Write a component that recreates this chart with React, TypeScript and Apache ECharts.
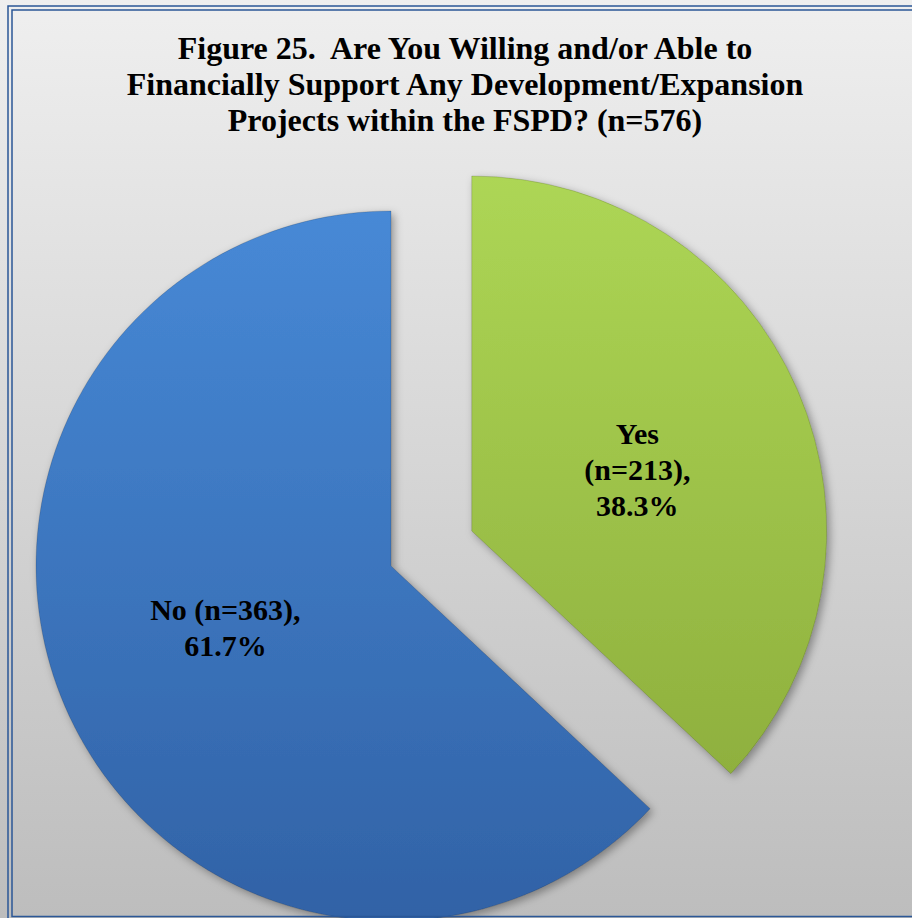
import React, { useEffect, useRef } from "react";
import * as echarts from "echarts";

const titleLines = [
  "Figure 25.  Are You Willing and/or Able to",
  "Financially Support Any Development/Expansion",
  "Projects within the FSPD? (n=576)",
];
const categories = ["Yes", "No"];
const counts = [213, 363];
const percents = [38.3, 61.7];
const nameSeparators = ["\n", " "];
const labelOffsets = [
  [0, 10],
  [0, -10],
];

const sliceColors = [
  ["#add655", "#8fb03e"],
  ["#4789d6", "#3162a6"],
];

export default function App() {
  const ref = useRef<HTMLDivElement>(null);
  useEffect(() => {
    document.body.style.margin = "0";
    const chart = echarts.init(ref.current!, null, { renderer: "svg" });
    const data = categories.map((c, i) => ({
      name: c,
      value: counts[i],
      selected: i === 0,
      label: {
        formatter: `${c}${nameSeparators[i]}(n=${counts[i]}),\n${percents[i].toFixed(1)}%`,
        offset: labelOffsets[i],
      },
      select: { label: { offset: labelOffsets[i] } },
      itemStyle: {
        color: new echarts.graphic.LinearGradient(0, 0, 0, 1, [
          { offset: 0, color: sliceColors[i][0] },
          { offset: 1, color: sliceColors[i][1] },
        ]),
      },
    }));
    chart.setOption({
      animation: false,
      graphic: [
        {
          type: "rect",
          z: -10,
          silent: true,
          shape: { x: 0, y: 0, width: 912, height: 918 },
          style: {
            fill: new echarts.graphic.LinearGradient(0, 0, 0, 1, [
              { offset: 0, color: "#efefef" },
              { offset: 1, color: "#bdbdbd" },
            ]),
          },
        },
        {
          type: "rect",
          z: 100,
          silent: true,
          shape: { x: 8, y: 6, width: 912, height: 916 },
          style: { fill: "none", stroke: "#2b5797", lineWidth: 1.5 },
        },
        {
          type: "rect",
          z: 100,
          silent: true,
          shape: { x: 12, y: 10, width: 906, height: 906.5 },
          style: { fill: "none", stroke: "#2b5797", lineWidth: 1.5 },
        },
      ],
      title: {
        text: titleLines.join("\n"),
        left: 465,
        top: 30,
        textAlign: "center",
        padding: 0,
        textStyle: {
          fontFamily: "Liberation Serif",
          fontWeight: "bold",
          fontSize: 32,
          lineHeight: 36,
          color: "#000",
        },
      },
      series: [
        {
          type: "pie",
          center: [391, 566],
          radius: 355,
          startAngle: 90,
          clockwise: true,
          selectedMode: "single",
          selectedOffset: 88,
          avoidLabelOverlap: false,
          emphasis: { disabled: true },
          itemStyle: {
            borderColor: "rgba(0,0,0,0.15)",
            borderWidth: 1,
            shadowBlur: 8,
            shadowOffsetX: 3,
            shadowOffsetY: 3,
            shadowColor: "rgba(0,0,0,0.35)",
          },
          label: {
            show: true,
            position: "inside",
            fontFamily: "Liberation Serif",
            fontWeight: "bold",
            fontSize: 30,
            lineHeight: 36,
            color: "#000",
            align: "center",
          },
          labelLine: { show: false },
          data,
        },
      ],
    });
    return () => chart.dispose();
  }, []);
  return <div ref={ref} style={{ width: 912, height: 918 }} />;
}
